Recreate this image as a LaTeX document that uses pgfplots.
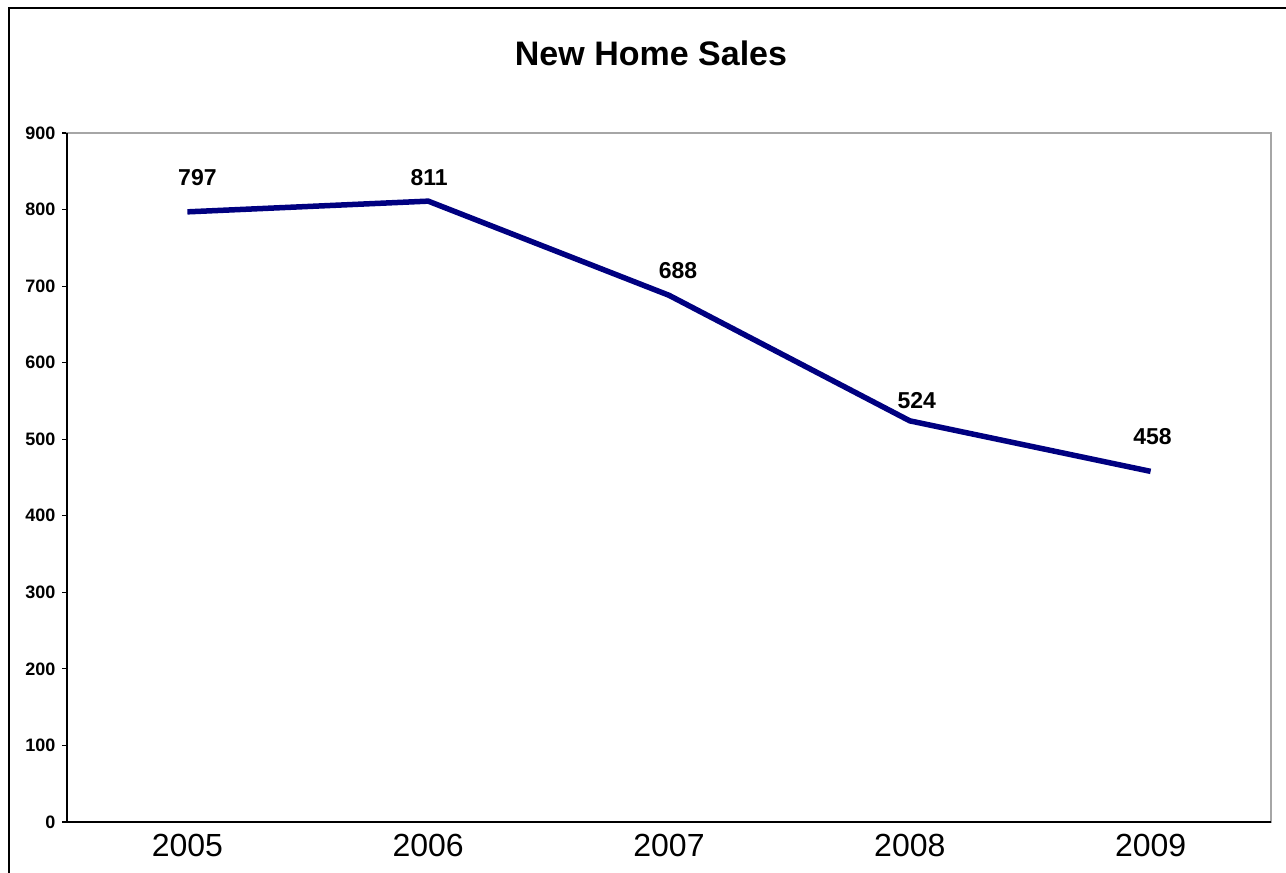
\documentclass[border=0pt]{standalone}
\usepackage{pgfplots}
\pgfplotsset{compat=1.18}
\usepackage{fontspec}
\setmainfont{Liberation Sans}
\definecolor{navyline}{RGB}{0,0,128}
\begin{document}
\begin{tikzpicture}[x=1pt,y=1pt]
\path[use as bounding box] (0,0) rectangle (1286,873);
\draw[line width=1.5pt] (9,-20) -- (9,865) -- (1300,865);
\node[anchor=base, inner sep=0pt, font=\fontsize{34}{34}\selectfont\bfseries] at (651,807) {New Home Sales};
\begin{axis}[
  at={(67pt,51pt)}, anchor=south west,
  scale only axis, width=1204pt, height=689pt,
  xmin=-0.5, xmax=4.5, ymin=0, ymax=900,
  xtick={0,1,2,3,4}, xticklabels={2005,2006,2007,2008,2009},
  ytick={0,100,...,900},
  axis line style={draw=gray!70, line width=1.2pt},
  tick align=outside, ytick pos=left, xtick pos=bottom,
  major tick length=5pt,
  y tick style={black, line width=1.2pt},
  x tick style={draw=none},
  yticklabel style={font=\fontsize{18}{18}\selectfont\bfseries, /pgf/number format/assume math mode=true, xshift=-3pt},
  xticklabel style={font=\fontsize{32}{32}\selectfont, yshift=-4pt},
  clip=false,
]
\addplot[navyline, line width=5.5pt, mark=none,
  nodes near coords, point meta=explicit symbolic,
  visualization depends on={\thisrow{dx}\as\dx},
  visualization depends on={\thisrow{dy}\as\dy},
  every node near coord/.append style={anchor=base, inner sep=0pt, xshift=\dx pt, yshift=\dy pt, text=black, font=\fontsize{23}{23}\selectfont\bfseries},
] table[x=x, y=y, meta=y] {
x y dx dy
0 797 10 26
1 811 1 16
2 688 9 17
3 524 7 12
4 458 2 27
};
\draw[black, line width=1.5pt] (rel axis cs:0,1) -- (rel axis cs:0,0) -- (rel axis cs:1,0);
\end{axis}
\end{tikzpicture}
\end{document}
